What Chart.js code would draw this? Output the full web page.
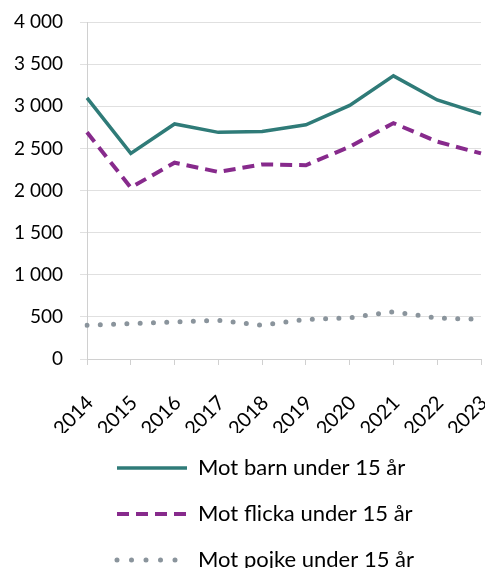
<!DOCTYPE html>
<html>
<head>
<meta charset="utf-8">
<script src="https://cdn.jsdelivr.net/npm/chart.js@4"></script>
<style>
html,body{margin:0;padding:0;background:#fff;overflow:hidden;}
#wrap{position:relative;width:485px;height:581px;}
</style>
</head>
<body>
<div id="wrap"><canvas id="c"></canvas></div>
<script>
const years = ['2014','2015','2016','2017','2018','2019','2020','2021','2022','2023'];
const barn   = [3100, 2440, 2790, 2690, 2700, 2780, 3010, 3360, 3075, 2910];
const flicka = [2690, 2035, 2330, 2220, 2310, 2300, 2520, 2800, 2580, 2440];
const pojke  = [400, 420, 440, 460, 400, 470, 490, 560, 485, 470];
const seriesNames = ['Mot barn under 15 år', 'Mot flicka under 15 år', 'Mot pojke under 15 år'];
const yTicks = [0, 500, 1000, 1500, 2000, 2500, 3000, 3500, 4000];

const FONT = 'Lato, "Open Sans", sans-serif';
const fmt = v => String(v).replace(/\B(?=(\d{3})+(?!\d))/g, ' ');
const legendDash = [[], [12, 7], [0, 14.5]];

new Chart(document.getElementById('c'), {
  type: 'line',
  data: {
    labels: years,
    datasets: [
      { label: seriesNames[0], data: barn, borderColor: '#2f7b78', backgroundColor: '#2f7b78',
        borderWidth: 3.5, pointRadius: 0, pointStyle: 'line', tension: 0, borderCapStyle: 'butt' },
      { label: seriesNames[1], data: flicka, borderColor: '#872a8c', backgroundColor: '#872a8c',
        borderWidth: 4, borderDash: [12, 7], pointRadius: 0, pointStyle: 'line', tension: 0, borderCapStyle: 'butt' },
      { label: seriesNames[2], data: pojke, borderColor: '#8a949c', backgroundColor: '#8a949c',
        borderWidth: 5, borderDash: [0, 13.3], borderCapStyle: 'round', pointRadius: 0, pointStyle: 'line', tension: 0 }
    ]
  },
  options: {
    responsive: true,
    maintainAspectRatio: false,
    animation: false,
    layout: { padding: { top: 22, right: 4, left: 0, bottom: 0 } },
    scales: {
      x: {
        offset: false,
        grid: { drawOnChartArea: false, drawTicks: true, tickLength: 6, color: '#d0d0d0' },
        border: { color: '#d0d0d0', width: 1 },
        ticks: { color: '#000', font: { family: FONT, size: 20 }, minRotation: 45, maxRotation: 45, autoSkip: false, padding: 26, labelOffset: 3 },
        afterFit: s => { s.paddingLeft = 0; s.paddingRight = 0; s.height = 74; }
      },
      y: {
        min: 0, max: 4000,
        afterBuildTicks: s => { s.ticks = yTicks.map(v => ({ value: v })); },
        grid: { color: '#e0e0e0', tickLength: 7, drawTicks: true },
        border: { color: '#d0d0d0', width: 1 },
        ticks: { color: '#000', font: { family: FONT, size: 19 }, padding: 17, callback: v => fmt(v) },
        afterFit: s => { s.width = 87; s.paddingTop = 0; s.paddingBottom = 0; }
      }
    },
    plugins: {
      legend: {
        position: 'bottom',
        align: 'start',
        labels: {
          usePointStyle: true,
          pointStyleWidth: 70,
          boxHeight: 22,
          padding: 24,
          color: '#000',
          font: { family: FONT, size: 22 },
          generateLabels: chart => chart.data.datasets.map((ds, i) => ({
            text: ds.label,
            datasetIndex: i,
            fillStyle: ds.borderColor,
            strokeStyle: ds.borderColor,
            fontColor: '#000',
            lineWidth: ds.borderWidth,
            lineDash: legendDash[i],
            lineCap: ds.borderCapStyle || 'butt',
            pointStyle: 'line',
            hidden: false
          }))
        }
      },
      tooltip: { enabled: false }
    }
  },
  plugins: [{
    id: 'shiftLegend',
    afterLayout(chart) {
      const lg = chart.legend;
      if (lg) { lg.left += 93; lg.right += 93; }
    }
  }]
});
</script>
</body>
</html>
